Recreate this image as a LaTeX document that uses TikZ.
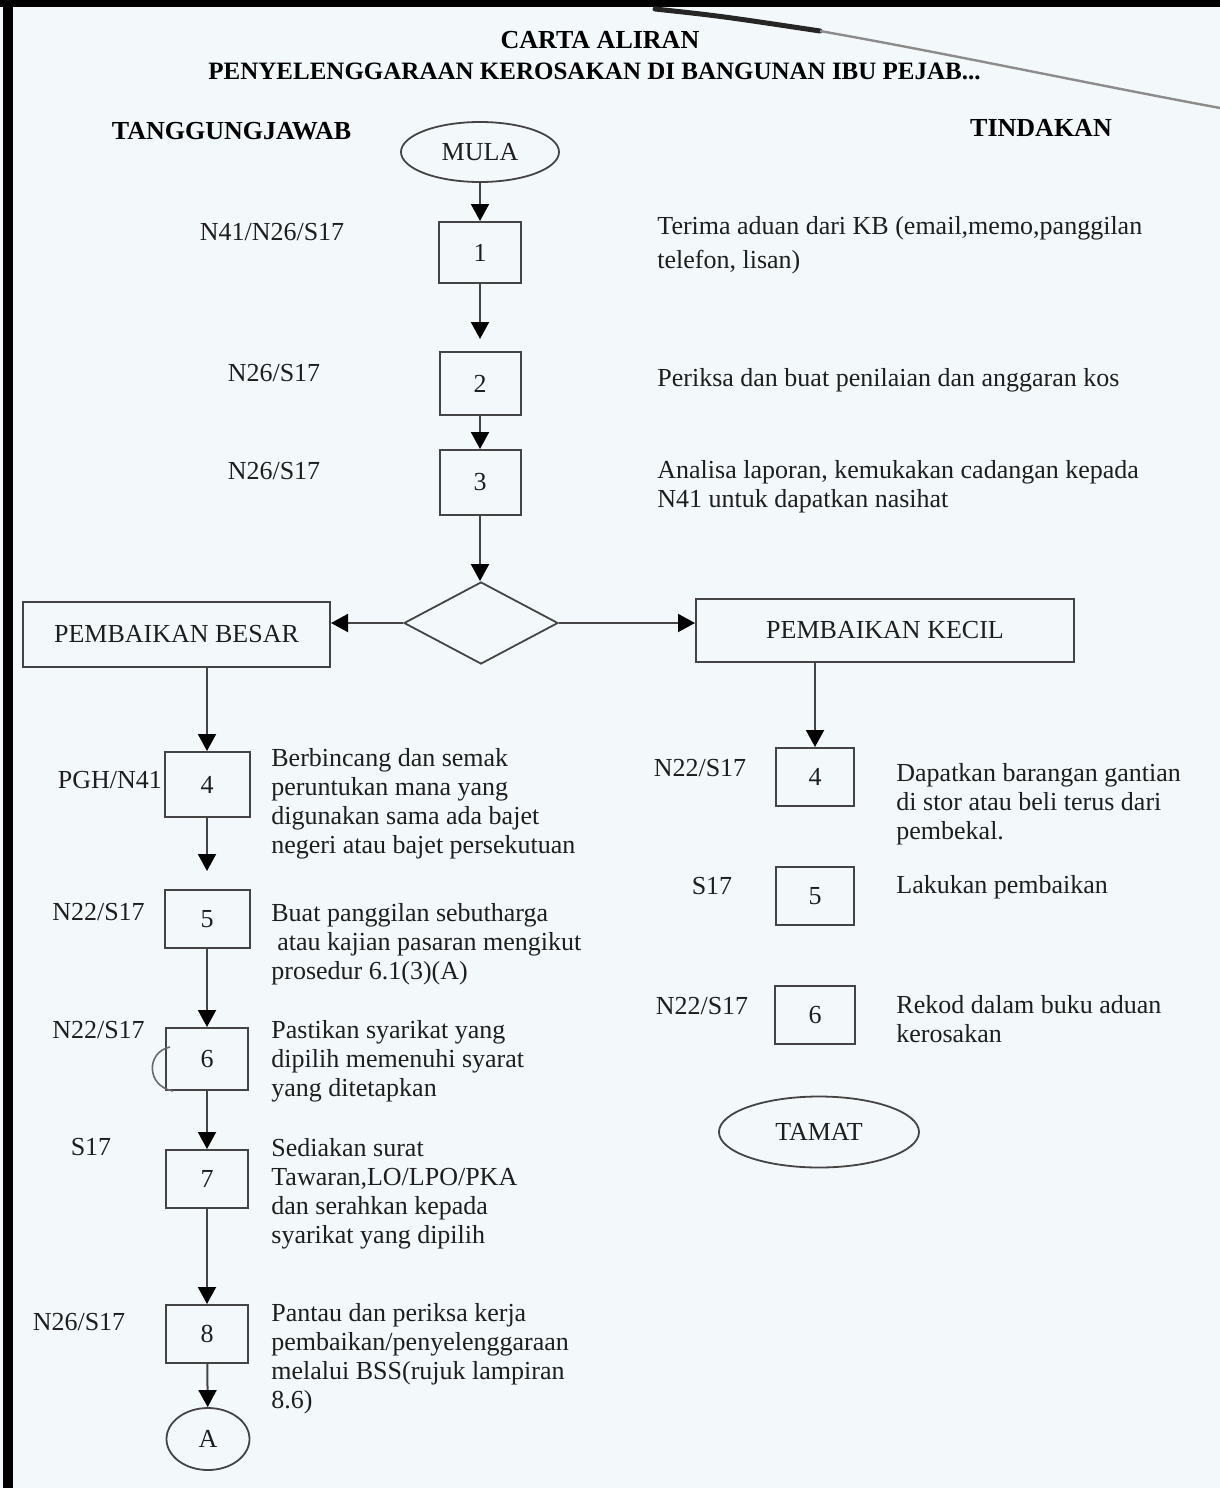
\documentclass[tikz,border=0pt]{standalone}
\usepackage{fontspec}
\setmainfont{Liberation Serif}
\usetikzlibrary{shapes.geometric,arrows.meta}
\definecolor{paper}{RGB}{243,249,251}
\definecolor{ink}{RGB}{30,30,30}
\definecolor{rule}{RGB}{68,68,68}
\begin{document}
\begin{tikzpicture}[x=0.5pt,y=-0.5pt,
  every node/.style={text=ink},
  txt/.style={font=\fontsize{13}{14.5}\selectfont},
  head/.style={font=\fontsize{13}{15}\selectfont\bfseries, text=black},
  lab/.style={txt},
  desc/.style={txt, anchor=north west, inner sep=0pt, align=left},
  stepbox/.style={draw=rule, line width=1pt, inner sep=0pt, txt},
  term/.style={draw=rule, line width=0.9pt, ellipse, inner sep=0pt, txt},
  decide/.style={draw=rule, line width=0.9pt, diamond, inner sep=0pt},
  arr/.style={draw=rule, line width=1pt, -{Triangle[length=8.5pt,width=9pt,color=black]}}
]
% paper and scanner edges
\useasboundingbox (0,0) rectangle (1220,1488);
\fill[paper] (0,0) rectangle (1220,1488);
\fill[black] (0,0) rectangle (1220,7);
\fill[black] (3,0) rectangle (13,1488);
\draw[black!85, line width=2.5pt, line cap=round] (655,9) .. controls (720,16) .. (820,31);
\draw[black!45, line width=1.2pt] (820,31) .. controls (950,54) and (1080,82) .. (1220,108);

% titles and column headings
\node[head] (title) at (600,40) {CARTA ALIRAN};
\node[font=\fontsize{12.5}{14}\selectfont\bfseries, text=black, anchor=west, inner sep=0pt] (subtitle) at (208,71)
  {PENYELENGGARAAN KEROSAKAN DI BANGUNAN IBU PEJAB...};
\node[head] (hresp) at (231.5,131) {TANGGUNGJAWAB};
\node[head] (hact) at (1041,128) {TINDAKAN};

% main column
\node[term, minimum width=79pt, minimum height=30pt] (mula) at (480,152) {MULA};
\node[stepbox, minimum width=41pt, minimum height=30.5pt] (b1) at (480,252.5) {1};
\node[stepbox, minimum width=40.5pt, minimum height=31.5pt] (b2) at (480,383.5) {2};
\node[stepbox, minimum width=40.5pt, minimum height=32.5pt] (b3) at (480,482.5) {3};
\node[decide, minimum width=77pt, minimum height=41pt] (dia) at (481,623) {};
\node[stepbox, minimum width=153.5pt, minimum height=32.5pt] (besar) at (176.5,634.5) {PEMBAIKAN BESAR};
\node[stepbox, minimum width=189pt, minimum height=31.5pt] (kecil) at (885,630.5) {PEMBAIKAN KECIL};

\node[lab] (lab1) at (272,232) {N41/N26/S17};
\node[lab] (lab2) at (274,373) {N26/S17};
\node[lab] (lab3) at (274,471) {N26/S17};

\node[desc] (d1) at (657,214) {\strut Terima aduan dari KB (email,memo,panggilan\\[2.5pt] telefon, lisan)};
\node[desc] (d2) at (657,366) {\strut Periksa dan buat penilaian dan anggaran kos};
\node[desc] (d3) at (657,458) {\strut Analisa laporan, kemukakan cadangan kepada\\ N41 untuk dapatkan nasihat};

% major repair branch
\node[stepbox, minimum width=42.5pt, minimum height=32.5pt] (l4) at (207,784.5) {4};
\node[stepbox, minimum width=42.5pt, minimum height=29pt] (l5) at (207,919) {5};
\node[stepbox, minimum width=41pt, minimum height=31pt] (l6) at (207,1059) {6};
\node[stepbox, minimum width=41pt, minimum height=29pt] (l7) at (207,1179) {7};
\node[stepbox, minimum width=41pt, minimum height=29pt] (l8) at (207,1334) {8};
\node[term, minimum width=41.5pt, minimum height=31pt] (conA) at (208,1439) {A};

\node[lab] (labl4) at (110,780) {PGH/N41};
\node[lab] (labl5) at (98.5,912) {N22/S17};
\node[lab] (labl6) at (98.5,1030) {N22/S17};
\node[lab] (labl7) at (91,1147) {S17};
\node[lab] (labl8) at (79,1322) {N26/S17};

\node[desc] (dl4) at (271,746) {\strut Berbincang dan semak\\ peruntukan mana yang\\ digunakan sama ada bajet\\ negeri atau bajet persekutuan};
\node[desc] (dl5) at (271,901) {\strut Buat panggilan sebutharga\\ \hspace*{3pt}atau kajian pasaran mengikut\\ prosedur 6.1(3)(A)};
\node[desc] (dl6) at (271,1018) {\strut Pastikan syarikat yang\\ dipilih memenuhi syarat\\ yang ditetapkan};
\node[desc] (dl7) at (271,1136) {\strut Sediakan surat\\ Tawaran,LO/LPO/PKA\\ dan serahkan kepada\\ syarikat yang dipilih};
\node[desc] (dl8) at (271,1301) {\strut Pantau dan periksa kerja\\ pembaikan/penyelenggaraan\\ melalui BSS(rujuk lampiran\\ 8.6)};

% pen mark beside step 6
\draw[rule!80, line width=0.8pt] (170,1047) .. controls (146,1052) and (146,1086) .. (173,1091);

% minor repair branch
\node[stepbox, minimum width=39pt, minimum height=29pt] (r4) at (815,777) {4};
\node[stepbox, minimum width=39pt, minimum height=29pt] (r5) at (815,896) {5};
\node[stepbox, minimum width=40pt, minimum height=29pt] (r6) at (815,1015) {6};
\node[term, minimum width=100pt, minimum height=35.5pt] (tamat) at (819,1132) {TAMAT};

\node[lab] (labr4) at (700,768) {N22/S17};
\node[lab] (labr5) at (712,886) {S17};
\node[lab] (labr6) at (702,1006) {N22/S17};

\node[desc] (dr4) at (896,761) {\strut Dapatkan barangan gantian\\ di stor atau beli terus dari\\ pembekal.};
\node[desc] (dr5) at (896,873) {\strut Lakukan pembaikan};
\node[desc] (dr6) at (896,993) {\strut Rekod dalam buku aduan\\ kerosakan};

% connectors
\draw[arr] (mula) -- (b1);
\draw[arr, shorten >=6pt] (b1) -- (b2);
\draw[arr] (b2) -- (b3);
\draw[arr] (b3) -- (b3 |- dia.north);
\draw[arr] (dia) -- (dia -| besar.east);
\draw[arr] (dia) -- (dia -| kecil.west);
\draw[arr] (l4 |- besar.south) -- (l4);
\draw[arr, shorten >=9pt] (l4) -- (l5);
\draw[arr] (l5) -- (l6);
\draw[arr] (l6) -- (l7);
\draw[arr] (l7) -- (l8);
\draw[arr] (l8) -- (conA);
\draw[arr] (r4 |- kecil.south) -- (r4);
\end{tikzpicture}
\end{document}
